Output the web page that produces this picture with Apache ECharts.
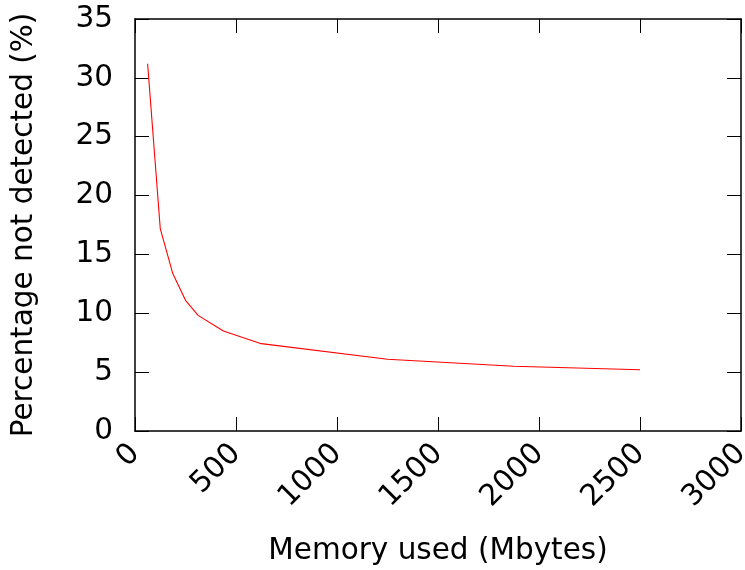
<!DOCTYPE html>
<html><head><meta charset="utf-8">
<script src="https://cdn.jsdelivr.net/npm/echarts@6/dist/echarts.min.js"></script>
<style>html,body{margin:0;padding:0;background:#fff}#c{width:745px;height:570px}</style>
</head><body><div id="c"></div>
<script>
var memory = [62.5, 125, 187.5, 250, 312.5, 437.5, 625, 1250, 1875, 2500];
var notDetected = [31.2, 17.2, 13.35, 11.1, 9.82, 8.5, 7.42, 6.1, 5.5, 5.2];
var xTitle = 'Memory used (Mbytes)';
var yTitle = 'Percentage not detected (%)';

var font = 'DejaVu Sans';
var fs = 29.5;
var chart = echarts.init(document.getElementById('c'), null, {renderer: 'canvas'});
var axisLine = {show: true, onZero: false, lineStyle: {color: '#000', width: 1.5}};
var tick = {show: true, inside: true, length: 14, lineStyle: {color: '#000', width: 1}};
chart.setOption({
  animation: false,
  grid: {left: 135, right: 4, top: 19, bottom: 139, containLabel: false, outerBoundsMode: 'none'},
  xAxis: [{
    type: 'value', min: 0, max: 3000, interval: 500, position: 'bottom',
    axisLine: axisLine, axisTick: tick, splitLine: {show: false},
    axisLabel: {rotate: 45, margin: 18, fontFamily: font, fontSize: fs, color: '#000',
      formatter: function (v) { return String(v); }},
    name: xTitle, nameLocation: 'middle', nameGap: 105,
    nameTextStyle: {fontFamily: font, fontSize: fs, color: '#000'}
  }, {
    type: 'value', min: 0, max: 3000, interval: 500, position: 'top',
    axisLine: axisLine, axisTick: tick, axisLabel: {show: false}, splitLine: {show: false}
  }],
  yAxis: [{
    type: 'value', min: 0, max: 35, interval: 5, position: 'left',
    axisLine: axisLine, axisTick: tick, splitLine: {show: false},
    axisLabel: {margin: 22, fontFamily: font, fontSize: fs, color: '#000'},
    name: yTitle, nameLocation: 'middle', nameGap: 96,
    nameTextStyle: {fontFamily: font, fontSize: fs, color: '#000'}
  }, {
    type: 'value', min: 0, max: 35, interval: 5, position: 'right',
    axisLine: axisLine, axisTick: tick, axisLabel: {show: false}, splitLine: {show: false}
  }],
  series: [{
    type: 'line', xAxisIndex: 0, yAxisIndex: 0,
    data: memory.map(function (m, i) { return [m, notDetected[i]]; }),
    showSymbol: false, symbol: 'none',
    lineStyle: {color: '#ff0000', width: 1.1}
  }]
});
</script></body></html>
